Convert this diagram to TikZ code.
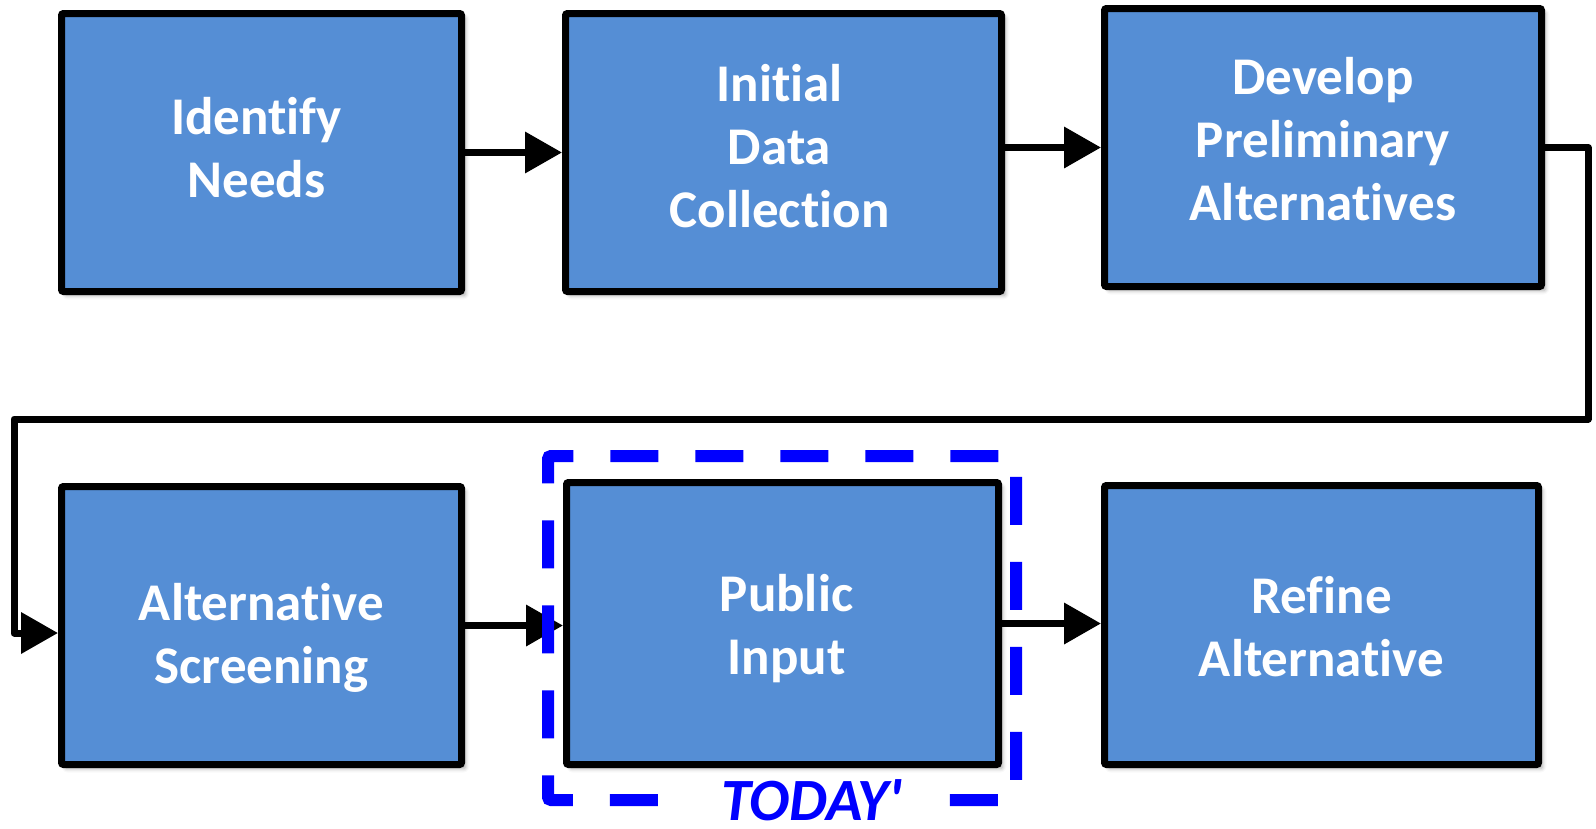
\documentclass[tikz,border=0pt]{standalone}
\usepackage{fontspec}
\setmainfont{Carlito}[Ligatures={NoCommon}]
\usetikzlibrary{arrows.meta,shadows.blur,calc}
\definecolor{boxblue}{RGB}{85,142,213}
\definecolor{dashblue}{RGB}{0,0,255}
\begin{document}
\begin{tikzpicture}[x=1pt,y=-1pt,
  stepbox/.style={draw=black, line width=7pt, fill=boxblue, rounded corners=2pt,
    inner sep=0pt,
    blur shadow={shadow xshift=4pt, shadow yshift=-4pt, shadow blur radius=4pt, shadow opacity=35}},
  steptext/.style={text=white, align=center, inner sep=0pt,
    font=\fontsize{53}{63}\selectfont\bfseries},
  flow/.style={line width=7pt, -{Triangle[length=37pt,width=40pt]}},
  todaybox/.style={draw=dashblue, line width=12pt, dash pattern=on 48pt off 37pt, rounded corners=3pt}]
\useasboundingbox (0,0) rectangle (1596,828);
% top row
\node[stepbox, minimum width=400pt, minimum height=278pt] (b1) at (261.5,152.5) {};
\node[stepbox, minimum width=436pt, minimum height=278pt] (b2) at (783.5,152.5) {};
\node[stepbox, minimum width=437pt, minimum height=278pt] (b3) at (1323,147.5) {};
% bottom row
\node[stepbox, minimum width=400pt, minimum height=278pt] (b4) at (261.5,625.5) {};
\node[stepbox, minimum width=432pt, minimum height=282pt] (b5) at (782.5,623.5) {};
\node[stepbox, minimum width=434pt, minimum height=279pt] (b6) at (1321.5,625) {};
% texts
\node[steptext] (t1) at ($(b1.center)+(-5,-5)$) {Identify\\Needs};
\node[steptext] (t2) at ($(b2.center)+(-4,-6)$) {Initial\\Data\\Collection};
\node[steptext] (t3) at ($(b3.center)+(0,-8)$) {Develop\\Preliminary\\Alternatives};
\node[steptext] (t4) at ($(b4.center)+(0,12)$) {Alternative\\Screening};
\node[steptext] (t5) at ($(b5.center)+(4,5)$) {Public\\Input};
\node[steptext] (t6) at ($(b6.center)+(0,2)$) {Refine\\Alternative};
% connectors
\draw[flow] (b1.east) -- (b2.west);
\draw[flow] (b2.east |- b3.west) -- (b3.west);
\coordinate (c1) at (1588,419);
\coordinate (c2) at (14,633);
\draw[flow, line join=round] (b3.east) -| (c1) -| (c2) -- (c2 -| b4.west);
\draw[flow] (b4.east) -- (b4.east -| b5.west);
\draw[flow] (b5.east) -- (b5.east -| b6.west);
% today frame
\draw[todaybox] (548,483) -- (548,456) -- (1016,456) -- (1016,800) -- (548,800) -- cycle;
\node[text=dashblue, fill=white, font=\fontsize{60}{62}\selectfont\bfseries\itshape,
  text depth=0pt, inner xsep=36pt, inner ysep=2pt, anchor=base] (today) at (812,820) {TODAY\textquotesingle};
\end{tikzpicture}
\end{document}
